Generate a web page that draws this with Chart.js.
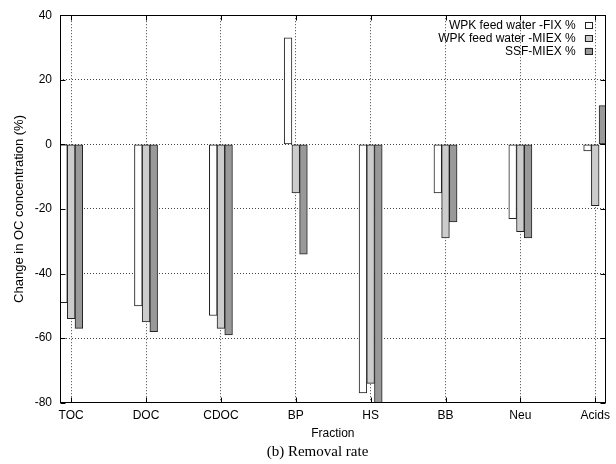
<!DOCTYPE html>
<html>
<head>
<meta charset="utf-8">
<script src="https://cdn.jsdelivr.net/npm/chart.js@4.4.0/dist/chart.umd.min.js"></script>
<style>
  html, body { margin: 0; padding: 0; background: #fff; }
</style>
</head>
<body>
<canvas id="removalChart" width="616" height="464"></canvas>
<script>
const fractions = ["TOC", "DOC", "CDOC", "BP", "HS", "BB", "Neu", "Acids"];
const fixValues = [-49, -50, -53, 33, -77, -15, -23, -2];
const miexValues = [-54, -55, -57, -15, -74, -29, -27, -19];
const ssfValues = [-57, -58, -59, -34, -84, -24, -29, 12];
const yTicks = [-80, -60, -40, -20, 0, 20, 40];
const seriesNames = ["WPK feed water -FIX %", "WPK feed water -MIEX %", "SSF-MIEX %"];

const sans = '"Liberation Sans", Arial, sans-serif';
Chart.defaults.font.family = sans;
Chart.defaults.font.size = 12;
Chart.defaults.color = "#000";

// frame + gnuplot style inward tics
const frame = {
  id: "frame",
  afterDatasetsDraw(chart) {
    const { ctx, chartArea: a, scales } = chart;
    const l = Math.round(a.left) + 0.5, r = Math.round(a.right) - 0.5;
    const t = Math.round(a.top) + 0.5, b = Math.round(a.bottom) - 0.5;
    ctx.save();
    ctx.strokeStyle = "#000";
    ctx.lineWidth = 1;
    ctx.beginPath();
    scales.y.ticks.forEach((tk, i) => {
      const y = Math.round(scales.y.getPixelForTick(i)) + 0.5;
      ctx.moveTo(l, y); ctx.lineTo(l + 5, y);
      ctx.moveTo(r, y); ctx.lineTo(r - 5, y);
    });
    scales.x.ticks.forEach((tk, i) => {
      const x = Math.round(scales.x.getPixelForTick(i)) + 0.5;
      ctx.moveTo(x, b); ctx.lineTo(x, b - 5);
      ctx.moveTo(x, t); ctx.lineTo(x, t + 5);
    });
    ctx.stroke();
    ctx.strokeRect(l, t, r - l, b - t);
    ctx.restore();
  }
};

// key in the top right corner, text first then box
const keyBox = {
  id: "keyBox",
  afterDraw(chart) {
    const { ctx, chartArea: a } = chart;
    ctx.save();
    ctx.font = "12px " + sans;
    ctx.textAlign = "right";
    ctx.textBaseline = "middle";
    chart.data.datasets.forEach((ds, i) => {
      const y = a.top + 10.5 + i * 12.8;
      ctx.fillStyle = "#000";
      ctx.fillText(ds.label, a.right - 30, y);
      ctx.fillStyle = ds.backgroundColor;
      ctx.fillRect(a.right - 21, y - 3.5, 7.6, 7);
      ctx.strokeStyle = "#222";
      ctx.strokeRect(Math.round(a.right - 21) + 0.5, Math.round(y - 3.5) + 0.5, 7, 6);
    });
    // figure caption
    ctx.font = '15px "Liberation Serif", "Times New Roman", serif';
    ctx.textAlign = "center";
    ctx.fillStyle = "#000";
    ctx.fillText("(b) Removal rate", 317.5, 451.7);
    ctx.restore();
  }
};

const toPoints = vals => vals.map((v, i) => ({ x: i, y: v }));
const barStyle = { borderColor: "#222", borderWidth: 1, borderSkipped: false, barThickness: 7.7 };

new Chart(document.getElementById("removalChart"), {
  type: "bar",
  data: {
    datasets: [
      { label: seriesNames[0], data: toPoints(fixValues), backgroundColor: "#ffffff", ...barStyle },
      { label: seriesNames[1], data: toPoints(miexValues), backgroundColor: "#cccccc", ...barStyle },
      { label: seriesNames[2], data: toPoints(ssfValues), backgroundColor: "#999999", ...barStyle }
    ]
  },
  options: {
    responsive: false,
    animation: false,
    layout: { padding: { top: 14.7, right: 4.3, left: 0, bottom: 21.3 } },
    plugins: {
      legend: { display: false },
      tooltip: { enabled: false }
    },
    scales: {
      x: {
        type: "linear",
        min: -0.149,
        max: 7.139,
        offset: false,
        afterBuildTicks: s => { s.ticks = fractions.map((f, i) => ({ value: i })); },
        afterFit: s => { s.height = 40; },
        ticks: {
          autoSkip: false,
          maxRotation: 0,
          padding: 6,
          callback: v => fractions[v]
        },
        grid: { color: "#444", drawTicks: false, offset: false },
        border: { display: false, dash: [1, 2] },
        title: { display: true, text: "Fraction", font: { size: 12 }, padding: { top: 0, bottom: 2.2 } }
      },
      y: {
        min: -80,
        max: 40,
        afterBuildTicks: s => { s.ticks = yTicks.map(v => ({ value: v })); },
        afterFit: s => { s.width = 60; },
        ticks: { padding: 8 },
        grid: { color: "#444", drawTicks: false },
        border: { display: false, dash: [1, 2] },
        title: { display: true, text: "Change in OC concentration (%)", font: { size: 13 }, padding: { top: 11.5, bottom: 0 } }
      }
    }
  },
  plugins: [frame, keyBox]
});
</script>
</body>
</html>
